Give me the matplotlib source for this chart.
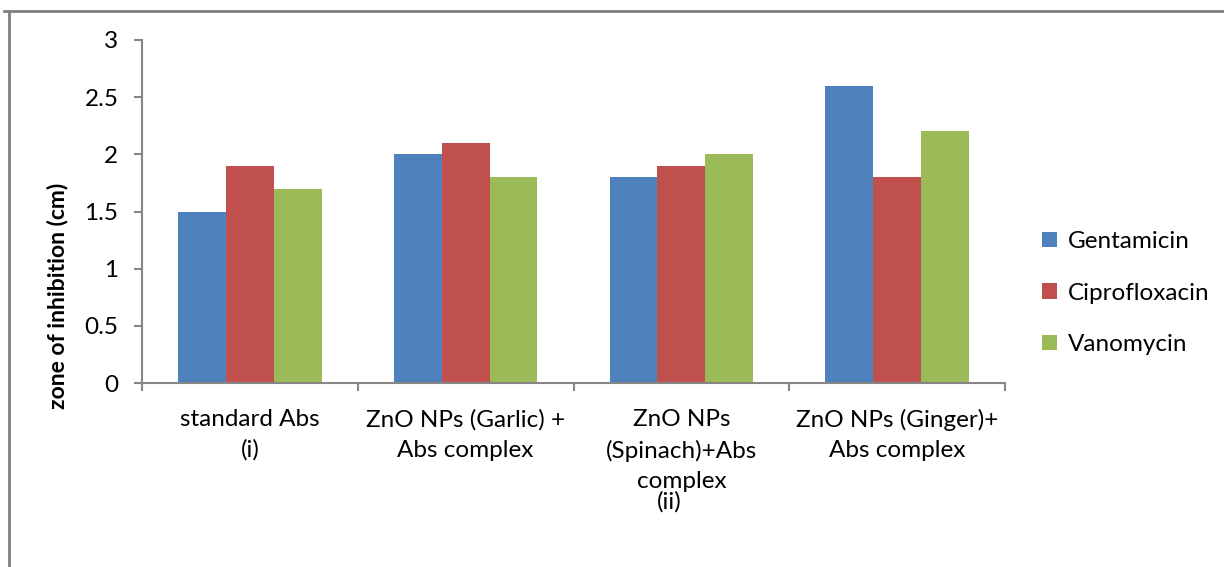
import numpy as np
import matplotlib.pyplot as plt
from matplotlib.lines import Line2D

# data
categories = [
    "standard Abs\n(i)",
    "ZnO NPs (Garlic) +\nAbs complex",
    "ZnO NPs\n(Spinach)+Abs\ncomplex",
    "ZnO NPs (Ginger)+\nAbs complex",
]
gentamicin    = [1.5, 2.0, 1.8, 2.6]
ciprofloxacin = [1.9, 2.1, 1.9, 1.8]
vanomycin     = [1.7, 1.8, 2.0, 2.2]

series = ["Gentamicin", "Ciprofloxacin", "Vanomycin"]
COLORS = ["#4F81BD", "#C0504D", "#9BBB59"]
AXIS_GRAY = "#868686"
FS = 17.5

plt.rcParams["font.family"] = ["Lato", "DejaVu Sans"]

fig = plt.figure(figsize=(12.24, 5.67), dpi=100)
ax = fig.add_axes([142 / 1224, 1 - 383 / 567, (1005 - 142) / 1224, (383 - 40) / 567])

x = np.arange(len(categories))
w = 0.222
for i, (vals, name) in enumerate(zip([gentamicin, ciprofloxacin, vanomycin], series)):
    ax.bar(x + (i - 1) * w, vals, width=w, color=COLORS[i], label=name, zorder=2)

ax.set_xlim(-0.5, len(categories) - 0.5)
ax.set_ylim(0, 3)
ax.set_yticks(np.arange(0, 3.01, 0.5))
ax.set_yticklabels(["0", "0.5", "1", "1.5", "2", "2.5", "3"])

ax.set_xticks(x)
ax.set_xticklabels(categories, fontsize=FS, linespacing=1.52, va="top")
ax.set_xticks(np.arange(-0.5, len(categories)), minor=True)
ax.tick_params(axis="x", which="major", length=0, pad=19)
ax.tick_params(axis="x", which="minor", length=6, width=1.5, color=AXIS_GRAY)
ax.tick_params(axis="y", length=6, width=1.5, color=AXIS_GRAY, labelsize=FS, pad=11)

for s in ["top", "right"]:
    ax.spines[s].set_visible(False)
for s in ["left", "bottom"]:
    ax.spines[s].set_color(AXIS_GRAY)
    ax.spines[s].set_linewidth(1.5)

fig.text(57 / 1224, 1 - 296 / 567, "zone of inhibition (cm)", rotation=90,
         ha="center", va="center", fontsize=16.5, fontweight="bold")
fig.text(669 / 1224, 1 - 502 / 567, "(ii)", ha="center", va="center", fontsize=FS)

ax.legend(loc="center left", bbox_to_anchor=(1.018, 0.262), frameon=False,
          fontsize=FS, handlelength=0.6, handleheight=0.6, handletextpad=0.45,
          labelspacing=1.25)

# page border lines
fig.add_artist(Line2D([4 / 1224, 1], [1 - 11 / 567] * 2, color="#808080", linewidth=2))
fig.add_artist(Line2D([9 / 1224] * 2, [0, 1 - 11 / 567], color="#808080", linewidth=2))

fig.savefig("out.png", dpi=100)
